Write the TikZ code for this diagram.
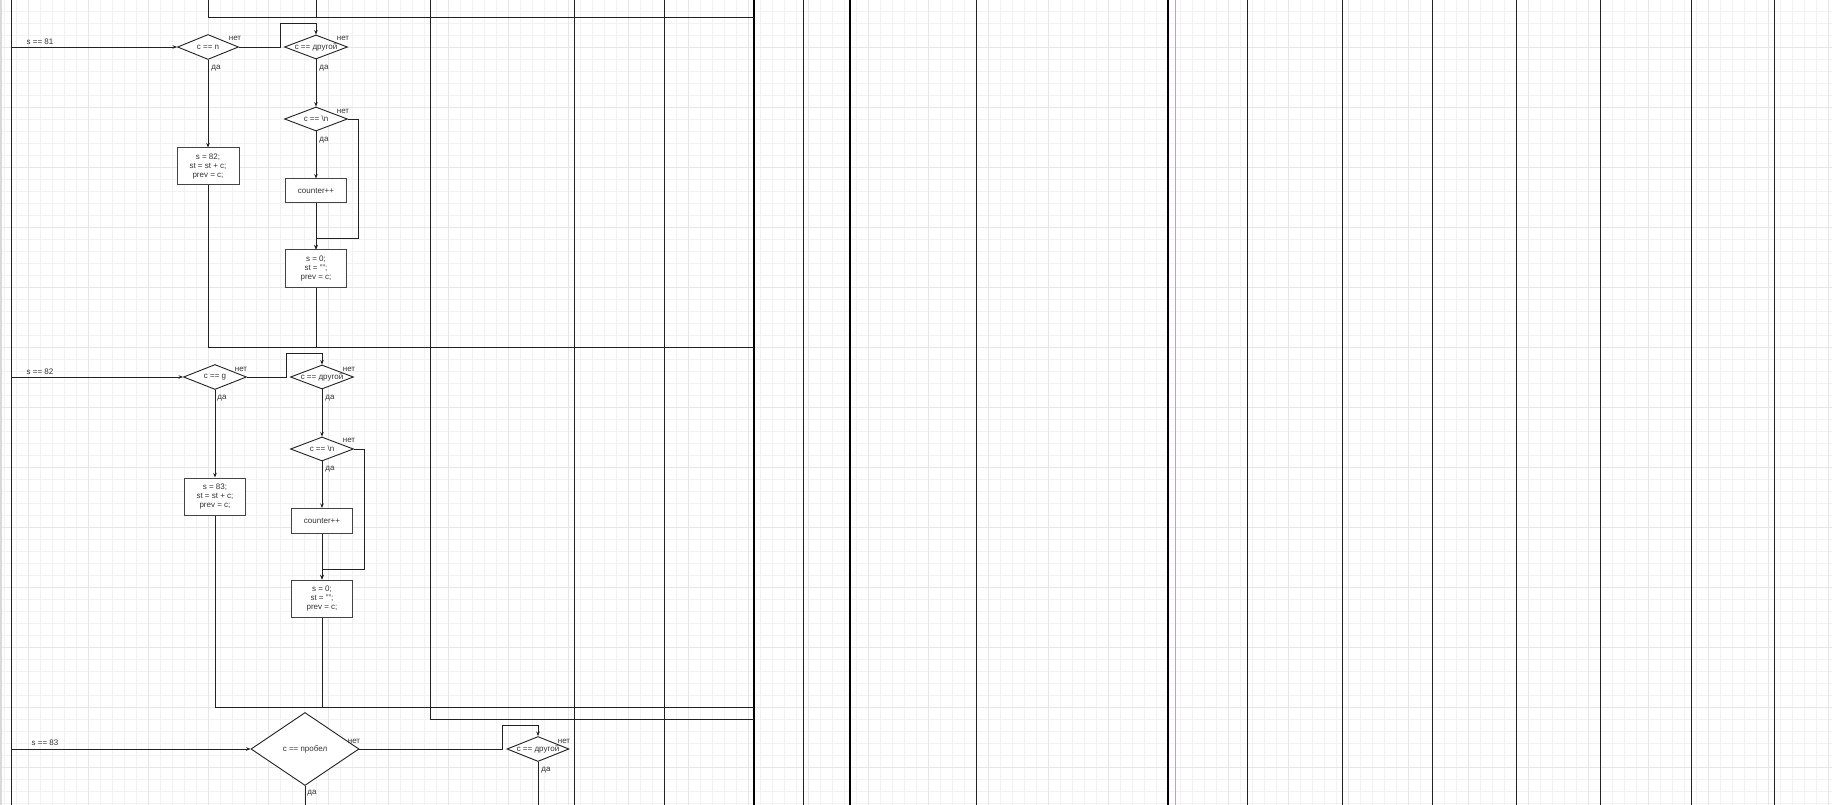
\documentclass[tikz,border=0pt]{standalone}
\usepackage{fontspec}
\setmainfont{Liberation Sans}
\usetikzlibrary{shapes.geometric,arrows.meta}
\definecolor{ink}{HTML}{222222}
\definecolor{txt}{HTML}{333333}
\definecolor{boxline}{HTML}{444444}
\definecolor{gridminor}{HTML}{F2F2F2}
\definecolor{gridmajor}{HTML}{E6E6E6}
\definecolor{lgreen}{HTML}{55EE44}
\tikzset{
  ln/.style={draw=ink, line width=0.9pt},
  thk/.style={draw=black, line width=2pt},
  arr/.style={ln, -{Stealth[length=4.5pt,width=3.5pt]}},
  dia/.style 2 args={diamond, draw=ink, line width=0.9pt, aspect=2.5, inner sep=0pt,
     minimum width=#1, minimum height=#2, fill=white, text=txt,
     font=\fontsize{8}{9}\selectfont},
  stepbox/.style 2 args={rectangle, draw=boxline, line width=1pt, fill=white, inner sep=0pt,
     align=center, minimum width=#1, minimum height=#2, text=txt,
     font=\fontsize{8}{9}\selectfont},
  lbl/.style={inner sep=0pt, text=txt, font=\fontsize{8}{9}\selectfont},
}
\begin{document}
\begin{tikzpicture}[x=1pt,y=-1pt]
\useasboundingbox (0,0) rectangle (1832,805);
\fill[white] (0,0) rectangle (1832,805);
% grid
\foreach \gx in {0,...,152} {\draw[gridminor, line width=0.8pt] ({4.3+12*\gx},0) -- ({4.3+12*\gx},805);}
\foreach \gy in {0,...,66} {\draw[gridminor, line width=0.8pt] (0,{11.7+12*\gy}) -- (1832,{11.7+12*\gy});}
\foreach \gx in {0,...,30} {\draw[gridmajor, line width=0.9pt] ({28.3+60*\gx},0) -- ({28.3+60*\gx},805);}
\foreach \gy in {0,...,13} {\draw[gridmajor, line width=0.9pt] (0,{47.7+60*\gy}) -- (1832,{47.7+60*\gy});}
\fill[black!15] (0,0) rectangle (2,805);

% ---------- column / frame lines ----------
\coordinate (L0) at (11,0);   \coordinate (L1) at (11,805);
\draw[ln] (L0) -- (L1);
\foreach \cx in {574,664,803,976,1247,1342,1432,1516,1600,1691,1774} {
  \draw[ln] (\cx,0) -- (\cx,805);
}
\foreach \cx in {754,850,1168} {
  \draw[thk] (\cx,0) -- (\cx,805);
}
\draw[lgreen, line width=0.9pt] (1175,0) -- (1175,805);
\coordinate (c430t) at (430,0);
\coordinate (c430b) at (430,719);
\coordinate (c430r) at (754,719);
\draw[ln] (c430t) -- (c430b) -- (c430r);

% top returns
\coordinate (t1) at (208,0); \coordinate (t2) at (316,0);
\coordinate (t1b) at (208,17); \coordinate (t2b) at (316,17);
\coordinate (t3) at (754,17);
\draw[ln] (t1) -- (t1b) -- (t3);
\draw[ln] (t2) -- (t2b);

% ---------- block s == 81 ----------
\node[dia={61pt}{25pt}] (d1a) at (208,47) {\makebox[0pt]{c == n}};
\node[dia={63pt}{24pt}] (d1b) at (316,47) {\makebox[0pt]{c == другой}};
\node[dia={63pt}{24pt}] (d1c) at (316,119) {\makebox[0pt]{c == \textbackslash n}};
\node[stepbox={62pt}{37pt}] (b1a) at (208,166.5) {s = 82;\\st = st + c;\\prev = c;};
\node[stepbox={61pt}{24pt}] (b1b) at (316,191) {counter++};
\node[stepbox={61pt}{37pt}] (b1c) at (316,268.5) {s = 0;\\st = "";\\prev = c;};
\coordinate (s81) at (11,47);
\draw[arr] (s81) -- (d1a.west);
\node[lbl] (ls81) at (40,42) {s == 81};
\draw[arr] (d1a.east) -- (280,47) -- (280,23) -- (316,23) -- (d1b.north);
\draw[arr] (d1b.south) -- (d1c.north);
\draw[arr] (d1c.south) -- (b1b.north);
\draw[arr] (b1b.south) -- (b1c.north);
\draw[arr] (d1c.east) -- (358,119) -- (358,238) -- (316,238) -- (b1c.north);
\draw[arr] (d1a.south) -- (b1a.north);
\coordinate (j1a) at (208,347); \coordinate (j1b) at (316,347); \coordinate (j1r) at (754,347);
\draw[ln] (b1a.south) -- (j1a) -- (j1r);
\draw[ln] (b1c.south) -- (j1b);
\node[lbl] at (235,38) {нет};
\node[lbl] at (216,68) {да};
\node[lbl] at (343,38) {нет};
\node[lbl] at (324,68) {да};
\node[lbl] at (343,111) {нет};
\node[lbl] at (324,140) {да};

% ---------- block s == 82 ----------
\node[dia={63pt}{25pt}] (d2a) at (215,377) {\makebox[0pt]{c == g}};
\node[dia={63pt}{24pt}] (d2b) at (322,377) {\makebox[0pt]{c == другой}};
\node[dia={63pt}{24pt}] (d2c) at (322,449) {\makebox[0pt]{c == \textbackslash n}};
\node[stepbox={61pt}{37pt}] (b2a) at (215,496.5) {s = 83;\\st = st + c;\\prev = c;};
\node[stepbox={61pt}{25pt}] (b2b) at (322,521) {counter++};
\node[stepbox={61pt}{37pt}] (b2c) at (322,598.5) {s = 0;\\st = "";\\prev = c;};
\coordinate (s82) at (11,377);
\draw[arr] (s82) -- (d2a.west);
\node[lbl] (ls82) at (40,372) {s == 82};
\draw[arr] (d2a.east) -- (286,377) -- (286,353) -- (322,353) -- (d2b.north);
\draw[arr] (d2b.south) -- (d2c.north);
\draw[arr] (d2c.south) -- (b2b.north);
\draw[arr] (b2b.south) -- (b2c.north);
\draw[arr] (d2c.east) -- (364,449) -- (364,569) -- (322,569) -- (b2c.north);
\draw[arr] (d2a.south) -- (b2a.north);
\coordinate (j2a) at (215,707); \coordinate (j2b) at (322,707); \coordinate (j2r) at (754,707);
\draw[ln] (b2a.south) -- (j2a) -- (j2r);
\draw[ln] (b2c.south) -- (j2b);
\node[lbl] at (241,369) {нет};
\node[lbl] at (222,398) {да};
\node[lbl] at (349,369) {нет};
\node[lbl] at (330,398) {да};
\node[lbl] at (349,440) {нет};
\node[lbl] at (330,469) {да};

% ---------- block s == 83 ----------
\node[dia={108pt}{73pt}] (d3a) at (305,749) {\makebox[0pt]{c == пробел}};
\node[dia={62pt}{25pt}] (d3b) at (538,749) {\makebox[0pt]{c == другой}};
\coordinate (s83) at (11,749);
\draw[arr] (s83) -- (d3a.west);
\node[lbl] (ls83) at (45,743) {s == 83};
\draw[arr] (d3a.east) -- (502,749) -- (502,725) -- (538,725) -- (d3b.north);
\coordinate (e3a) at (305,805); \coordinate (e3b) at (538,805);
\draw[ln] (d3a.south) -- (e3a);
\draw[ln] (d3b.south) -- (e3b);
\node[lbl] at (354,741) {нет};
\node[lbl] at (312,793) {да};
\node[lbl] at (564,741) {нет};
\node[lbl] at (546,770) {да};
\end{tikzpicture}
\end{document}
